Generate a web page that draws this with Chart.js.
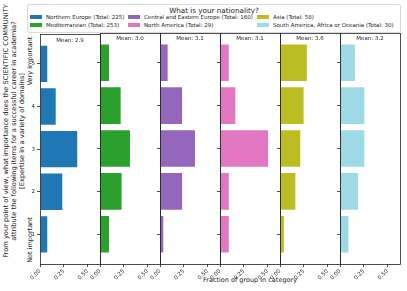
<!DOCTYPE html>
<html>
<head>
<meta charset="utf-8">
<script src="https://cdn.jsdelivr.net/npm/chart.js@4/dist/chart.umd.min.js"></script>
<style>
  body { margin: 0; background: #fff; font-family: 'DejaVu Sans', sans-serif; color: #222; }
  #fig { position: relative; width: 407px; height: 291px; overflow: hidden; }
  #fig canvas { position: absolute; }
  .txt { position: absolute; white-space: nowrap; }
  .rot { transform: translate(-50%, -50%) rotate(-90deg); text-align: center; }
  #legend { position: absolute; left: 27px; top: 4px; width: 372px; height: 27px; border: 1px solid #d9d9d9; border-radius: 2px; }
  .sw { position: absolute; width: 12px; height: 4px; }
</style>
</head>
<body>
<div id="fig">
  <div id="legend"></div>
  <div class="txt rot" style="left:14px; top:131px; font-size:6.7px; line-height:8px;">From your point of view, what importance does the SCIENTIFIC COMMUNITY<br>attribute the following items for a successful career in academia?<br>[Expertise in a variety of domains]</div>
  <div class="txt rot" style="left:29.5px; top:61px; font-size:6.5px;">Very important</div>
  <div class="txt rot" style="left:29.5px; top:240px; font-size:6.5px;">Not important</div>
  <div class="txt" style="left:250px; top:280px; font-size:6.5px; transform:translate(-50%,-50%);">Fraction of group in category</div>
</div>
<script>
// Datos
const categories = [1, 2, 3, 4, 5];
const groupNames = ['Northern Europe', 'Mediterranean', 'Central and Eastern Europe', 'North America', 'Asia', 'South America, Africa or Oceania'];
const groupTotals = [225, 253, 160, 29, 58, 30];
const northernEurope = [0.087, 0.245, 0.403, 0.176, 0.087];
const mediterranean = [0.105, 0.238, 0.326, 0.228, 0.105];
const centralEastern = [0.045, 0.243, 0.379, 0.243, 0.091];
const northAmerica = [0.103, 0.103, 0.517, 0.172, 0.103];
const asia = [0.052, 0.172, 0.224, 0.259, 0.293];
const southAmerica = [0.100, 0.200, 0.267, 0.267, 0.167];
const means = [2.9, 3.0, 3.1, 3.1, 3.6, 3.2];
const xTicks = [0, 0.25, 0.5];
const colors = ['#1f77b4', '#2ca02c', '#9467bd', '#e377c2', '#bcbd22', '#9edae5'];

const series = [northernEurope, mediterranean, centralEastern, northAmerica, asia, southAmerica];

// Layout
const PLOT_LEFT = 40, PANEL_W = 60, PLOT_TOP = 33, PLOT_H = 231;
const Y_W = 18, X_H = 24, PAD_TOP = 4, PAD_RIGHT = 4;
const X_MAX = 0.632;
const FONT = 'DejaVu Sans';

// Recuadro del panel + etiqueta de media
const panelBox = {
    id: 'panelBox',
    afterDraw(chart, args, opts) {
        const { ctx, chartArea: a } = chart;
        ctx.save();
        ctx.strokeStyle = '#222';
        ctx.lineWidth = 0.8;
        ctx.strokeRect(Math.round(a.left) + 0.5, Math.round(a.top) + 0.5, Math.round(a.right - a.left), Math.round(a.bottom - a.top));
        ctx.fillStyle = '#222';
        ctx.font = '5.5px "' + FONT + '"';
        ctx.textAlign = 'center';
        ctx.textBaseline = 'middle';
        ctx.fillText('Mean: ' + opts.mean.toFixed(1), (a.left + a.right) / 2, a.top + 6);
        ctx.restore();
    }
};

function makePanel(i) {
    const canvas = document.createElement('canvas');
    canvas.width = Y_W + PANEL_W + PAD_RIGHT;
    canvas.height = PAD_TOP + PLOT_H + X_H;
    canvas.style.left = (PLOT_LEFT + i * PANEL_W - Y_W) + 'px';
    canvas.style.top = (PLOT_TOP - PAD_TOP) + 'px';
    document.getElementById('fig').appendChild(canvas);

    new Chart(canvas, {
        type: 'bar',
        data: {
            datasets: [{
                data: categories.map((c, k) => ({ x: series[i][k], y: c })),
                backgroundColor: colors[i],
                borderColor: 'rgba(255,255,255,0.6)',
                borderWidth: 1,
                categoryPercentage: 1,
                barPercentage: 0.9
            }]
        },
        options: {
            indexAxis: 'y',
            responsive: false,
            animation: false,
            layout: { padding: { top: PAD_TOP, right: PAD_RIGHT, left: 0, bottom: 0 } },
            plugins: {
                legend: { display: false },
                tooltip: { enabled: false },
                panelBox: { mean: means[i] }
            },
            scales: {
                x: {
                    type: 'linear', min: 0, max: X_MAX,
                    afterBuildTicks: s => { s.ticks = xTicks.map(v => ({ value: v })); },
                    afterFit: s => { s.height = X_H; },
                    grid: { drawOnChartArea: false, tickLength: 3, color: '#222', lineWidth: 0.8 },
                    border: { display: false },
                    ticks: {
                        minRotation: 45, maxRotation: 45, padding: 1, color: '#222',
                        font: { family: FONT, size: 5.5 },
                        callback: v => Number(v).toFixed(2)
                    }
                },
                y: {
                    type: 'linear', min: 0.305, max: 5.695, offset: false,
                    afterBuildTicks: s => { s.ticks = categories.map(v => ({ value: v })); },
                    afterFit: s => { s.width = Y_W; },
                    grid: { offset: false, drawOnChartArea: false, tickLength: 3, color: '#222', lineWidth: 0.8 },
                    border: { display: false },
                    ticks: {
                        display: i === 0, padding: 2, color: '#222',
                        font: { family: FONT, size: 5.5 },
                        callback: v => String(v)
                    }
                }
            }
        },
        plugins: [panelBox]
    });
}

// Leyenda
function buildLegend() {
    const legend = document.getElementById('legend');
    const colX = [2, 100, 229];
    const rowY = [12, 20];
    let html = '<div class="txt" style="left:186px; top:5px; font-size:7.2px; transform:translate(-50%,-50%);">What is your nationality?</div>';
    groupNames.forEach((name, k) => {
        const cx = colX[Math.floor(k / 2)], cy = rowY[k % 2];
        html += `<div class="sw" style="left:${cx}px; top:${cy - 2}px; background:${colors[k]};"></div>`;
        html += `<div class="txt" style="left:${cx + 16}px; top:${cy}px; font-size:5.5px; transform:translateY(-50%);">${name} (Total: ${groupTotals[k]})</div>`;
    });
    legend.innerHTML = html;
}

window.onload = () => {
    buildLegend();
    for (let i = 0; i < series.length; i++) makePanel(i);
};
</script>
</body>
</html>
